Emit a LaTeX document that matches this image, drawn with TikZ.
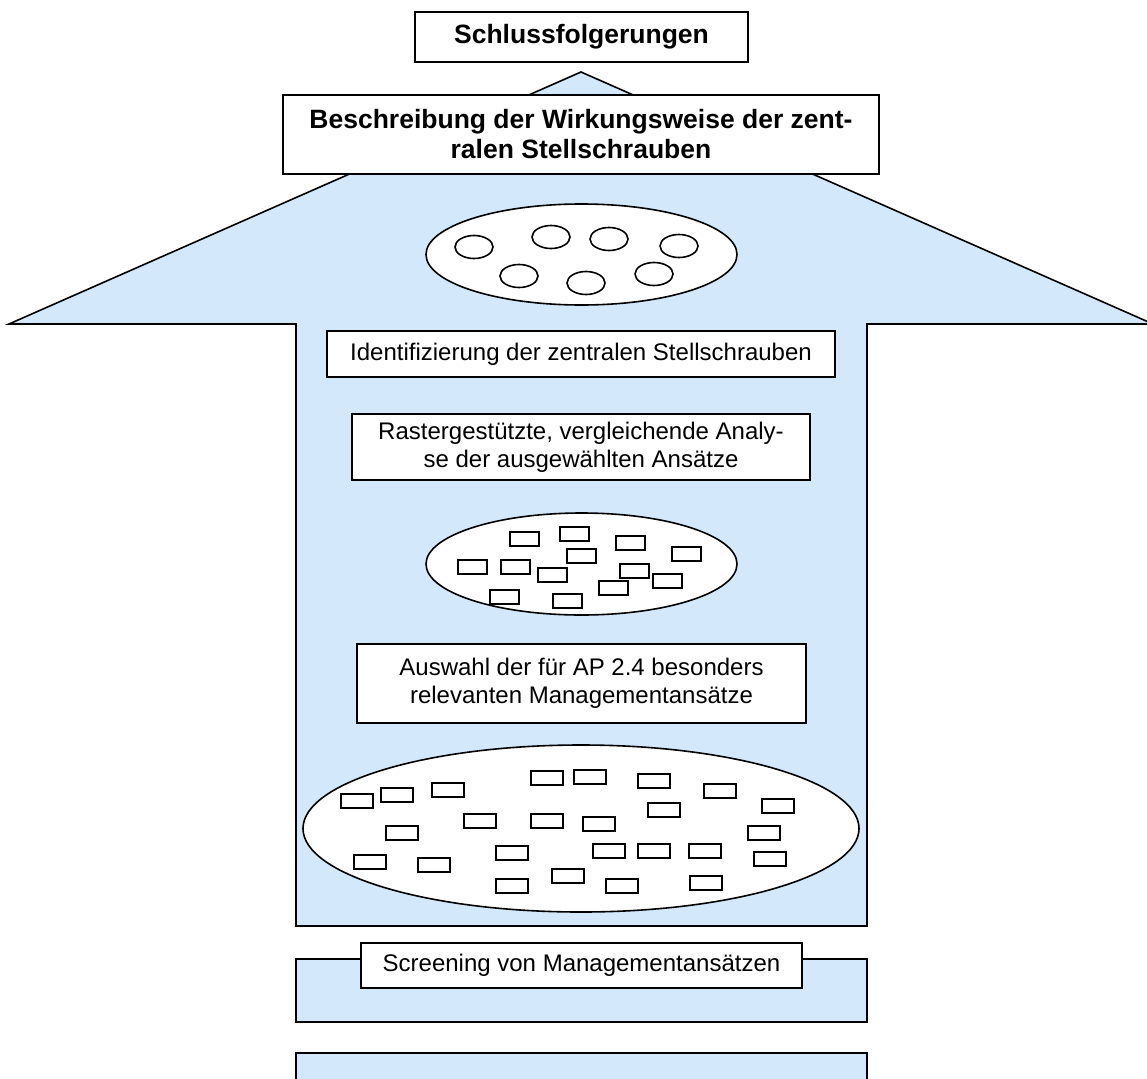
\documentclass[tikz,border=0pt]{standalone}
\usepackage{fontspec}
\setmainfont{Liberation Sans}
\usetikzlibrary{shapes.geometric}
\definecolor{arrowblue}{RGB}{212,232,252}

\begin{document}
\begin{tikzpicture}[x=1pt,y=-1pt,line width=1.6pt,
    box/.style={draw,fill=white,inner sep=0pt,align=center,font=\fontsize{24}{28}\selectfont},
    boldbox/.style={box,font=\fontsize{26.5}{30}\selectfont\bfseries},
    pool/.style={ellipse,draw,fill=white,inner sep=0pt}]
        \pgfmathsetmacro{\shaftleft}{296}
        \pgfmathsetmacro{\shaftright}{867}
        \useasboundingbox (0,0) rectangle (1147,1078);

        \filldraw[fill=arrowblue] (581,72) -- (1153,324) -- (\shaftright,324) -- (\shaftright,926) -- (\shaftleft,926) -- (\shaftleft,324) -- (9,324) -- cycle;
        \filldraw[fill=arrowblue] (\shaftleft,959) rectangle (\shaftright,1022);
        \filldraw[fill=arrowblue] (\shaftleft,1053) rectangle (\shaftright,1100);

        \node[boldbox,minimum width=333pt,minimum height=50pt] (schluss) at (581.5,37) {Schlussfolgerungen};
        \node[boldbox,minimum width=596pt,minimum height=79pt] (beschreibung) at (581,134.5) {Beschreibung der Wirkungsweise der zent-\\ralen Stellschrauben};

        \node[pool,minimum width=311pt,minimum height=101pt] (topics) at (581.5,254.5) {};
        \foreach \x/\y in {474/247, 551/237, 609/239, 679/246, 519/276, 586/283, 654/274}
            \draw (\x,\y) ellipse [x radius=19pt, y radius=11.5pt];

        \node[box,minimum width=508pt,minimum height=46pt] (ident) at (581,354) {Identifizierung der zentralen Stellschrauben};
        \node[box,minimum width=458pt,minimum height=66pt] (raster) at (581,447) {Rastergestützte, vergleichende Analy-\\se der ausgewählten Ansätze};

        \node[pool,minimum width=311pt,minimum height=102pt] (selected) at (581.5,564) {};
        \foreach \x/\y in {510/532, 560/527, 616/536, 567/549, 672/547, 458/560, 501/560,
            538/568, 620/564, 653/574, 599/581, 490/590, 553/594}
            \draw[fill=white] (\x,\y) rectangle ++(29,14);

        \node[box,minimum width=449pt,minimum height=79pt] (auswahl) at (581.5,683.5) {Auswahl der für AP 2.4 besonders\\relevanten Managementansätze};

        \node[pool,minimum width=556pt,minimum height=167pt] (screened) at (581,828.5) {};
        \foreach \x/\y in {341/794, 381/788, 432/783, 531/771, 574/770, 638/774, 704/784,
            762/799, 648/803, 464/814, 531/814, 583/817, 386/826, 748/826, 354/855,
            418/858, 496/846, 593/844, 638/844, 689/844, 754/852, 552/869, 496/879,
            606/879, 690/876}
            \draw[fill=white] (\x,\y) rectangle ++(32,14);

        \node[box,minimum width=441pt,minimum height=45pt] (screening) at (581.5,965.5) {Screening von Managementansätzen};
    \end{tikzpicture}
\end{document}
